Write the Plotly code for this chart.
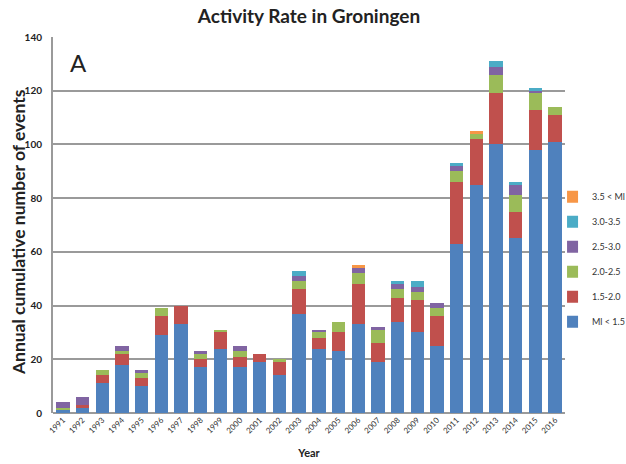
import plotly.graph_objects as go

years = [str(y) for y in range(1991, 2017)]
ml_lt_15 = [1, 2, 11, 18, 10, 29, 33, 17, 24, 17, 19, 14, 37, 24, 23, 33, 19, 34, 30, 25, 63, 85, 100, 65, 98, 101]
ml_15_20 = [0, 1, 3, 4, 3, 7, 7, 3, 6, 4, 3, 5, 9, 4, 7, 15, 7, 9, 12, 11, 23, 17, 19, 10, 15, 10]
ml_20_25 = [1, 0, 2, 1, 2, 3, 0, 2, 1, 2, 0, 1, 3, 2, 4, 4, 5, 3, 3, 3, 4, 2, 7, 6, 6, 3]
ml_25_30 = [2, 3, 0, 2, 1, 0, 0, 1, 0, 2, 0, 0, 2, 1, 0, 2, 1, 2, 2, 2, 2, 0, 3, 4, 1, 0]
ml_30_35 = [0, 0, 0, 0, 0, 0, 0, 0, 0, 0, 0, 0, 2, 0, 0, 0, 0, 1, 2, 0, 1, 0, 2, 1, 1, 0]
ml_gt_35 = [0, 0, 0, 0, 0, 0, 0, 0, 0, 0, 0, 0, 0, 0, 0, 1, 0, 0, 0, 0, 0, 1, 0, 0, 0, 0]

series = [
    ("Ml < 1.5", ml_lt_15, "#4F81BD"),
    ("1.5-2.0", ml_15_20, "#C0504D"),
    ("2.0-2.5", ml_20_25, "#9BBB59"),
    ("2.5-3.0", ml_25_30, "#8064A2"),
    ("3.0-3.5", ml_30_35, "#4BACC6"),
    ("3.5 < Ml", ml_gt_35, "#F79646"),
]

fig = go.Figure()
for i, (name, vals, col) in enumerate(series):
    fig.add_trace(go.Bar(x=years, y=vals, name=name, marker_color=col,
                         marker_line_width=0, legendgroup=name,
                         legendrank=100 - i))

font_family = "Lato, 'Open Sans', Arial, sans-serif"

W, H = 626, 464
fig.update_layout(
    barmode="stack",
    bargap=0.32,
    width=W, height=H,
    margin=dict(l=53, r=61, t=37, b=51, autoexpand=False),
    paper_bgcolor="white", plot_bgcolor="white",
    font=dict(family=font_family, color="#222"),
    title=dict(text="<b>Activity Rate in Groningen</b>", x=0.5, xref="paper",
               xanchor="center", y=1 - 16 / H, yref="container", yanchor="middle",
               pad=dict(t=0, b=0),
               font=dict(size=19, color="#222")),
    legend=dict(x=1.004, xanchor="left", y=0.614, yanchor="top",
                traceorder="grouped", tracegroupgap=6, indentation=-15,
                font=dict(size=9, color="#333"), itemwidth=30,
                bgcolor="rgba(0,0,0,0)"),
    showlegend=True,
    annotations=[
        dict(text="A", xref="paper", yref="paper", x=0.029, y=0.932,
             xanchor="left", yanchor="middle", showarrow=False,
             font=dict(size=24, color="#222", family=font_family)),
        dict(text="<b>Annual cumulative number of events</b>", textangle=-90,
             xref="paper", yref="paper", x=-0.0684, y=0.481,
             xanchor="center", yanchor="middle", showarrow=False,
             font=dict(size=17.5, color="#222", family=font_family)),
    ],
)

fig.update_xaxes(
    type="category", tickangle=-45,
    tickfont=dict(size=8, color="#333", family=font_family),
    title=dict(text="<b>Year</b>", font=dict(size=11, color="#222"), standoff=14),
    showgrid=False, showline=False, ticks="", automargin=False,
)
fig.update_yaxes(
    range=[0, 140], dtick=20,
    tickfont=dict(size=10, color="#222", family=font_family),
    tickprefix="<b>", ticksuffix="</b>", ticklabelstandoff=7,
    showgrid=True, gridcolor="#9a9a9a", gridwidth=2,
    showline=True, linecolor="#9a9a9a", linewidth=2,
    zeroline=True, zerolinecolor="#9a9a9a", zerolinewidth=2,
    ticks="", ticklen=0, automargin=False,
)

fig.write_html("out.html",
               config={"displayModeBar": False},
               post_script="document.body.style.margin='0px';"
                           "document.body.style.overflow='hidden';")
